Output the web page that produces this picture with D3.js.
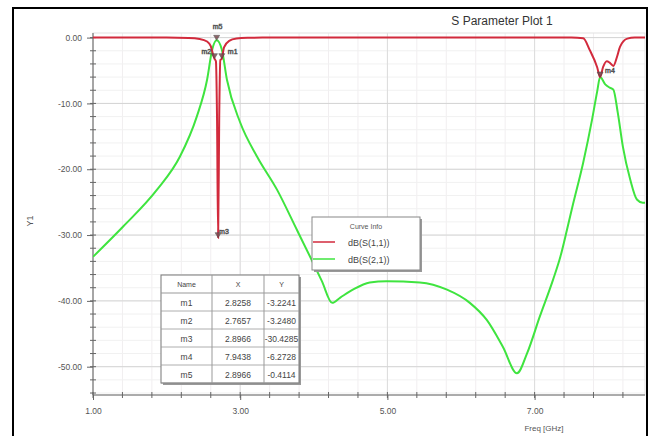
<!DOCTYPE html>
<html><head><meta charset="utf-8">
<script src="https://cdn.jsdelivr.net/npm/d3@7"></script>
<style>
html,body{margin:0;padding:0;background:#fff;}
svg{display:block;font-family:"Liberation Sans",Arial,sans-serif;}
</style></head>
<body>
<svg id="chart" width="649" height="436"></svg>
<script>
// ---- data ----
const s11Freq = [1.0, 2.0, 2.3, 2.45, 2.55, 2.6, 2.63, 2.65, 2.67, 2.685, 2.70, 2.715, 2.73, 2.75, 2.78, 2.85, 2.95, 3.1, 3.3, 7.5, 7.66, 7.75, 7.85, 7.89, 7.93, 7.98, 8.02, 8.07, 8.12, 8.16, 8.26, 8.36, 8.5];
const s11dB   = [0, 0, -0.05, -0.2, -0.6, -1.3, -2.5, -3.2, -3.6, -12, -30.4, -12, -3.4, -3.2, -1.5, -0.5, -0.15, -0.03, 0, 0, -0.1, -1.9, -4.5, -6.0, -4.5, -3.6, -3.8, -4.3, -2.9, -1.4, -0.15, 0, 0];
const s21Freq = [1.0, 1.41, 1.87, 2.18, 2.41, 2.55, 2.62, 2.68, 2.75, 2.82, 3.0, 3.23, 3.5, 3.77, 3.95, 4.11, 4.25, 4.36, 4.53, 4.76, 4.99, 5.44, 5.81, 6.12, 6.35, 6.57, 6.76, 6.9, 7.07, 7.25, 7.35, 7.44, 7.52, 7.66, 7.78, 7.85, 7.89, 7.96, 8.02, 8.07, 8.13, 8.2, 8.3, 8.39, 8.47, 8.5];
const s21dB   = [-33.3, -28.7, -23.1, -18.1, -12.0, -6.4, -1.8, -0.41, -1.8, -6.4, -12.9, -18.1, -23.1, -29.2, -33.3, -37.0, -40.3, -39.5, -38.3, -37.2, -37.0, -37.2, -38.3, -40.3, -42.9, -47.0, -51.0, -47.9, -42.4, -36.8, -33.3, -29.2, -25.4, -19.0, -12.5, -8.2, -6.0, -7.1, -7.6, -7.9, -11.4, -16.6, -21.6, -24.6, -25.1, -25.1];

const seriesNames = ["dB(S(1,1))", "dB(S(2,1))"];
const seriesColors = ["#d22a3c", "#3fe43f"];

const xTickVals = [1, 3, 5, 7];
const xTickLabels = ["1.00", "3.00", "5.00", "7.00"];
const yTickVals = [0, -10, -20, -30, -40, -50];
const yTickLabels = ["0.00", "-10.00", "-20.00", "-30.00", "-40.00", "-50.00"];

// marker positions on the picture
const markerNames = ["m1", "m2", "m3", "m4", "m5"];
const markerFreq  = [2.75, 2.65, 2.70, 7.89, 2.68];
const markerdB    = [-3.2, -3.2, -30.4, -6.0, -0.41];
// marker table text
const tableX = ["2.8258", "2.7657", "2.8966", "7.9438", "2.8966"];
const tableY = ["-3.2241", "-3.2480", "-30.4285", "-6.2728", "-0.4114"];

// ---- layout ----
const svg = d3.select("#chart");
const L = 93, R = 645, T = 33, B = 395;
const x = d3.scaleLinear().domain([1, 8.5]).range([L, R]);
const y = d3.scaleLinear().domain([-54.3, 0.7]).range([B, T]);

// outer frame
svg.append("rect").attr("x", 13).attr("y", 8).attr("width", 634).attr("height", 440)
  .attr("fill", "#fff").attr("stroke", "#000").attr("stroke-width", 2);

// title
svg.append("text").attr("x", 502).attr("y", 25).attr("text-anchor", "middle")
  .attr("font-size", 12).attr("fill", "#333").text("S Parameter Plot 1");

// grid
const g = svg.append("g");
const xMinor = d3.range(1, 8.5001, 0.4);
const yMinor = d3.range(0, -54.01, -2);
g.selectAll(".vgm").data(xMinor).join("line")
  .attr("x1", d => x(d)).attr("x2", d => x(d)).attr("y1", T).attr("y2", B)
  .attr("stroke", "#f1eef0").attr("stroke-width", 1);
g.selectAll(".hgm").data(yMinor).join("line")
  .attr("x1", L).attr("x2", R).attr("y1", d => y(d)).attr("y2", d => y(d))
  .attr("stroke", "#f1f1f1").attr("stroke-width", 1);
g.selectAll(".vg").data(xTickVals).join("line")
  .attr("x1", d => x(d)).attr("x2", d => x(d)).attr("y1", T).attr("y2", B)
  .attr("stroke", "#dcdcdc").attr("stroke-width", 1);
g.selectAll(".hg").data(yTickVals).join("line")
  .attr("x1", L).attr("x2", R).attr("y1", d => y(d)).attr("y2", d => y(d))
  .attr("stroke", "#d4d4d4").attr("stroke-width", 1);

// plot border (light)
svg.append("rect").attr("x", L).attr("y", T).attr("width", R - L).attr("height", B - T)
  .attr("fill", "none").attr("stroke", "#e2e2e2");

// axes
const xAxis = d3.axisBottom(x).tickValues(xTickVals).tickFormat((d, i) => xTickLabels[i]).tickSize(5).tickPadding(8);
const yAxis = d3.axisLeft(y).tickValues(yTickVals).tickFormat((d, i) => yTickLabels[i]).tickSize(6).tickPadding(5);
const xa = svg.append("g").attr("transform", `translate(0,${B})`).call(xAxis);
const ya = svg.append("g").attr("transform", `translate(${L},0)`).call(yAxis);
[xa, ya].forEach(a => {
  a.select(".domain").attr("stroke", "#666");
  a.selectAll(".tick line").attr("stroke", "#666");
  a.selectAll("text").attr("fill", "#555").attr("font-size", 8.5).attr("font-family", "Liberation Sans, Arial, sans-serif");
});
xa.select(".domain").attr("d", `M${L},0H${R}`);
ya.select(".domain").attr("d", `M0,${B}V${T}`);
// minor ticks
svg.append("g").selectAll("line").data(xMinor).join("line")
  .attr("x1", d => x(d)).attr("x2", d => x(d)).attr("y1", B - 3).attr("y2", B + 3)
  .attr("stroke", "#666");
svg.append("g").selectAll("line").data(yMinor).join("line")
  .attr("x1", L - 3).attr("x2", L + 3).attr("y1", d => y(d)).attr("y2", d => y(d))
  .attr("stroke", "#666");

// axis titles
svg.append("text").attr("x", 544).attr("y", 431).attr("text-anchor", "middle")
  .attr("font-size", 8).attr("fill", "#555").text("Freq [GHz]");
svg.append("text").attr("transform", "translate(33,221) rotate(-90)").attr("text-anchor", "middle")
  .attr("font-size", 9).attr("fill", "#555").text("Y1");

// curves
const line = d3.line().x(d => x(d[0])).y(d => y(d[1])).curve(d3.curveMonotoneX);
const clip = svg.append("clipPath").attr("id", "pc").append("rect")
  .attr("x", L).attr("y", T - 2).attr("width", R - L).attr("height", B - T + 2);
const curves = svg.append("g").attr("clip-path", "url(#pc)");
curves.append("path").datum(s21Freq.map((f, i) => [f, s21dB[i]]))
  .attr("d", line).attr("fill", "none").attr("stroke", seriesColors[1]).attr("stroke-width", 2);
curves.append("path").datum(s11Freq.map((f, i) => [f, s11dB[i]]))
  .attr("d", line).attr("fill", "none").attr("stroke", seriesColors[0]).attr("stroke-width", 2);

// markers
const mk = svg.append("g");
markerNames.forEach((n, i) => {
  const px = x(markerFreq[i]), py = y(markerdB[i]);
  mk.append("path").attr("d", `M${px - 3},${py - 5}L${px + 3},${py - 5}L${px},${py}Z`)
    .attr("fill", "#7a4a50").attr("stroke", "#444").attr("stroke-width", 0.6).attr("opacity", 0.85);
});
const lbl = [[0, 6, -5], [1, -13, -5], [2, 1, -4], [3, 5, -4], [4, -4, -11]];
lbl.forEach(([i, dx, dy]) => {
  mk.append("text").attr("x", x(markerFreq[i]) + dx).attr("y", y(markerdB[i]) + dy)
    .attr("font-size", 7).attr("fill", "#fff").attr("stroke", "#555").attr("stroke-width", 0.6)
    .text(markerNames[i]);
});

// legend
const lg = svg.append("g");
lg.append("rect").attr("x", 314).attr("y", 219).attr("width", 108).attr("height", 53).attr("fill", "#999");
lg.append("rect").attr("x", 312).attr("y", 217).attr("width", 108).attr("height", 53)
  .attr("fill", "#fff").attr("stroke", "#888");
lg.append("text").attr("x", 366).attr("y", 229).attr("text-anchor", "middle")
  .attr("font-size", 7).attr("fill", "#555").text("Curve Info");
seriesNames.forEach((s, i) => {
  const yy = 242 + i * 17;
  lg.append("line").attr("x1", 313).attr("x2", 335).attr("y1", yy).attr("y2", yy)
    .attr("stroke", seriesColors[i]).attr("stroke-width", 1.5);
  lg.append("text").attr("x", 348).attr("y", yy + 4).attr("font-size", 9).attr("fill", "#444").text(s);
});

// marker table
const tb = svg.append("g");
const tx = 161, ty = 275, colX = [161, 212, 264, 299], hh = 18, rh = 18;
tb.append("rect").attr("x", tx + 2).attr("y", ty + 2).attr("width", colX[3] - tx).attr("height", hh + rh * 5).attr("fill", "#999");
tb.append("rect").attr("x", tx).attr("y", ty).attr("width", colX[3] - tx).attr("height", hh + rh * 5)
  .attr("fill", "#fff").attr("stroke", "#777");
["Name", "X", "Y"].forEach((h, c) => {
  tb.append("text").attr("x", (colX[c] + colX[c + 1]) / 2).attr("y", ty + 12).attr("text-anchor", "middle")
    .attr("font-size", 7).attr("fill", "#444").text(h);
});
for (let r = 0; r <= 5; r++) {
  tb.append("line").attr("x1", tx).attr("x2", colX[3]).attr("y1", ty + hh + rh * r).attr("y2", ty + hh + rh * r)
    .attr("stroke", "#999").attr("stroke-width", r === 0 ? 1 : 0.8);
}
[1, 2].forEach(c => tb.append("line").attr("x1", colX[c]).attr("x2", colX[c]).attr("y1", ty).attr("y2", ty + hh + rh * 5)
  .attr("stroke", "#999"));
markerNames.forEach((n, r) => {
  const yy = ty + hh + rh * r + 13;
  [n, tableX[r], tableY[r]].forEach((t, c) => {
    tb.append("text").attr("x", (colX[c] + colX[c + 1]) / 2).attr("y", yy).attr("text-anchor", "middle")
      .attr("font-size", 8.5).attr("fill", "#444").text(t);
  });
});
</script>
</body></html>
